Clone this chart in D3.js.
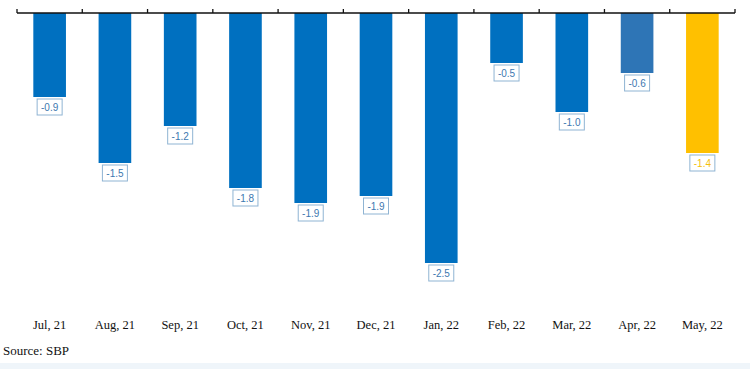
<!DOCTYPE html>
<html>
<head>
<meta charset="utf-8">
<script src="https://cdn.jsdelivr.net/npm/d3@7"></script>
<style>
  body { margin: 0; background: #fff; }
  svg { display: block; }
</style>
</head>
<body>
<svg id="chart"></svg>
<script>
const width = 750;
const height = 369;

// data
const months = ["Jul, 21", "Aug, 21", "Sep, 21", "Oct, 21", "Nov, 21", "Dec, 21",
  "Jan, 22", "Feb, 22", "Mar, 22", "Apr, 22", "May, 22"];
const values = [-0.84, -1.5, -1.13, -1.75, -1.9, -1.83, -2.5, -0.5, -0.99, -0.6, -1.4];
const valueLabels = ["-0.9", "-1.5", "-1.2", "-1.8", "-1.9", "-1.9", "-2.5", "-0.5", "-1.0", "-0.6", "-1.4"];
const barColors = ["#0070C0", "#0070C0", "#0070C0", "#0070C0", "#0070C0", "#0070C0",
  "#0070C0", "#0070C0", "#0070C0", "#2E75B6", "#FFC000"];
const labelColors = ["#3d78b0", "#3d78b0", "#3d78b0", "#3d78b0", "#3d78b0", "#3d78b0",
  "#3d78b0", "#3d78b0", "#3d78b0", "#3d78b0", "#F5BE0A"];
const source = "Source: SBP";

const svg = d3.select("#chart").attr("width", width).attr("height", height);

const x = d3.scaleBand()
  .domain(months)
  .range([17, 735])
  .paddingInner(0.5)
  .paddingOuter(0.25);

const y = d3.scaleLinear().domain([-2.5, 0]).range([263, 13]);

// bottom strip
svg.append("rect")
  .attr("x", 0).attr("y", 363)
  .attr("width", width).attr("height", height - 363)
  .attr("fill", "#eff5fa");

// bars
svg.selectAll("rect.bar")
  .data(values)
  .enter()
  .append("rect")
  .attr("class", "bar")
  .attr("x", (d, i) => x(months[i]))
  .attr("y", y(0))
  .attr("width", x.bandwidth())
  .attr("height", d => y(d) - y(0))
  .attr("fill", (d, i) => barColors[i]);

// axis line with ticks pointing up
const step = x.step();
const x0 = x.range()[0];
svg.append("line")
  .attr("x1", x0).attr("x2", x.range()[1])
  .attr("y1", y(0)).attr("y2", y(0))
  .attr("stroke", "#111").attr("stroke-width", 1.3);

svg.selectAll("line.tick")
  .data(d3.range(months.length + 1))
  .enter()
  .append("line")
  .attr("class", "tick")
  .attr("x1", i => x0 + i * step)
  .attr("x2", i => x0 + i * step)
  .attr("y1", y(0) - 4)
  .attr("y2", y(0))
  .attr("stroke", "#111").attr("stroke-width", 1.3);

// value label boxes
const lab = svg.selectAll("g.lab")
  .data(values)
  .enter()
  .append("g")
  .attr("class", "lab")
  .attr("transform", (d, i) => `translate(${x(months[i]) + x.bandwidth() / 2},${y(d) + 2})`);

lab.append("rect")
  .attr("x", -12.5).attr("y", 0)
  .attr("width", 25).attr("height", 16)
  .attr("fill", "#fff")
  .attr("stroke", "#8fb4d3")
  .attr("stroke-width", 1);

lab.append("text")
  .attr("x", 0).attr("y", 11.8)
  .attr("text-anchor", "middle")
  .attr("font-family", "'Liberation Sans', Arial, sans-serif")
  .attr("font-size", "10px")
  .attr("fill", (d, i) => labelColors[i])
  .text((d, i) => valueLabels[i]);

// category labels
svg.selectAll("text.cat")
  .data(months)
  .enter()
  .append("text")
  .attr("class", "cat")
  .attr("x", d => x(d) + x.bandwidth() / 2)
  .attr("y", 329)
  .attr("text-anchor", "middle")
  .attr("font-family", "'Liberation Serif', 'DejaVu Serif', serif")
  .attr("font-size", "12.5px")
  .attr("fill", "#111")
  .text(d => d);

svg.append("text")
  .attr("x", 3).attr("y", 355)
  .attr("font-family", "'Liberation Serif', 'DejaVu Serif', serif")
  .attr("font-size", "13px")
  .attr("fill", "#111")
  .text(source);
</script>
</body>
</html>
